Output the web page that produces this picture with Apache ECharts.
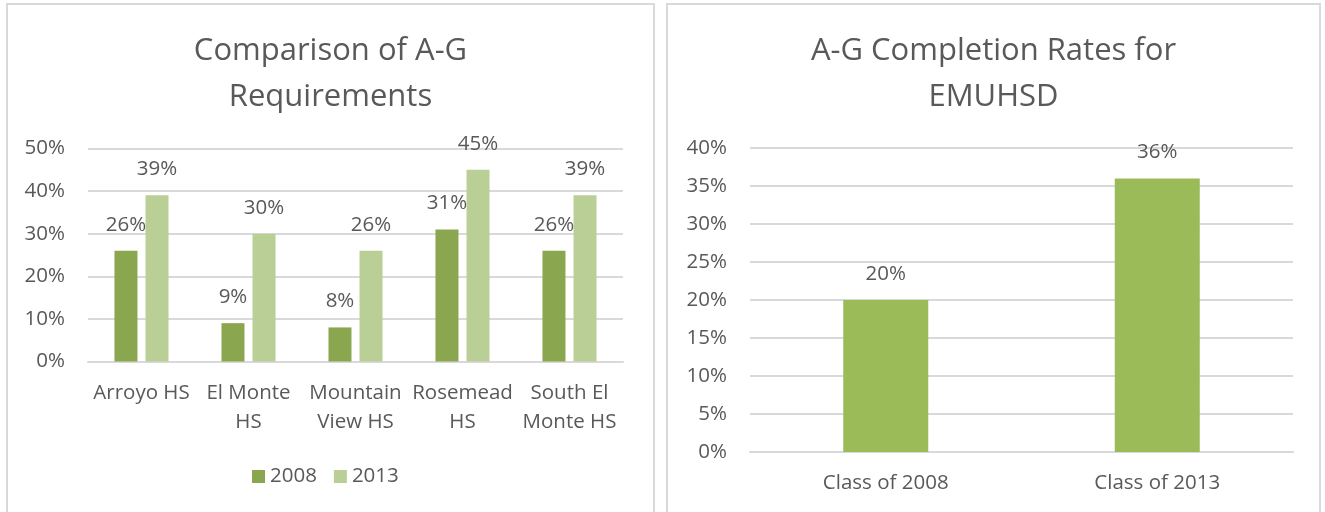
<!DOCTYPE html>
<html>
<head>
<meta charset="utf-8">
<script src="https://cdn.jsdelivr.net/npm/echarts@6/dist/echarts.min.js"></script>
<style>
  body { margin: 0; background: #fff; width: 1325px; height: 512px; overflow: hidden; }
  .panel { position: absolute; top: 3px; height: 520px; border: 2px solid #d9d9d9; background: #fff; }
  #left { left: 6px; width: 645px; }
  #right { left: 666px; width: 651px; }
</style>
</head>
<body>
<div id="left" class="panel"></div>
<div id="right" class="panel"></div>
<script>
// data
var schools = ['Arroyo HS', 'El Monte\nHS', 'Mountain\nView HS', 'Rosemead\nHS', 'South El\nMonte HS'];
var rate2008 = [26, 9, 8, 31, 26];
var rate2013 = [39, 30, 26, 45, 39];
var classes = ['Class of 2008', 'Class of 2013'];
var districtRate = [20, 36];

var font = '"Open Sans", "Noto Sans", sans-serif';
var txt = '#595959';
var gridCol = '#d9d9d9';

function valueAxis(max, step) {
    return {
        type: 'value', min: 0, max: max, interval: step,
        axisLine: {show: false},
        axisTick: {show: false},
        axisLabel: {formatter: '{value}%', color: txt, fontSize: 20.5, fontFamily: font, margin: 23},
        splitLine: {lineStyle: {color: gridCol, width: 2}}
    };
}
function catAxis(data) {
    return {
        type: 'category', data: data,
        axisLine: {lineStyle: {color: gridCol, width: 2}},
        axisTick: {show: false},
        axisLabel: {color: txt, fontSize: 20.5, fontFamily: font, lineHeight: 29, margin: 17, interval: 0}
    };
}
var lbl = {show: true, position: 'top', distance: 15, formatter: '{c}%', color: txt, fontSize: 20.5, fontFamily: font, lineHeight: 22};

var myChart = echarts.init(document.getElementById('left'));
myChart.setOption({
    animation: false,
    title: {
        text: 'Comparison of A-G\nRequirements',
        left: 'center', top: 18,
        textStyle: {color: txt, fontSize: 31, fontWeight: 'normal', fontFamily: font, lineHeight: 46}
    },
    legend: {
        data: ['2008', '2013'],
        left: 239, top: 456,
        itemWidth: 13, itemHeight: 13, itemGap: 17,
        icon: 'rect',
        textStyle: {color: txt, fontSize: 20.5, fontFamily: font}
    },
    grid: {left: 80, top: 143.5, width: 535, height: 213},
    xAxis: catAxis(schools),
    yAxis: valueAxis(50, 10),
    series: [
        {name: '2008', type: 'bar', data: rate2008, barWidth: 23, barGap: '35%',
         itemStyle: {color: '#8aa64e'}, label: lbl},
        {name: '2013', type: 'bar', data: rate2013, barWidth: 23,
         itemStyle: {color: '#b9cf96'}, label: lbl}
    ]
});

var myChart2 = echarts.init(document.getElementById('right'));
myChart2.setOption({
    animation: false,
    title: {
        text: 'A-G Completion Rates for\nEMUHSD',
        left: 'center', top: 18,
        textStyle: {color: txt, fontSize: 31, fontWeight: 'normal', fontFamily: font, lineHeight: 46}
    },
    grid: {left: 82, top: 143, width: 543, height: 304},
    xAxis: catAxis(classes),
    yAxis: valueAxis(40, 5),
    series: [
        {name: 'EMUHSD', type: 'bar', data: districtRate, barWidth: 85,
         itemStyle: {color: '#9bbb59'}, label: lbl}
    ]
});
</script>
</body>
</html>
